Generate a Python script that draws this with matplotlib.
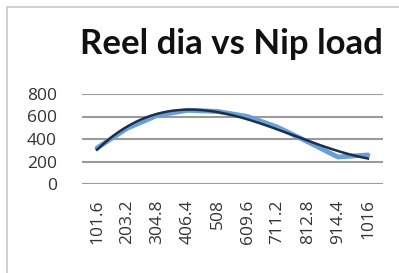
import numpy as np
import matplotlib
matplotlib.use("Agg")
import matplotlib.pyplot as plt
from matplotlib.patches import Rectangle

categories = ["101.6", "203.2", "304.8", "406.4", "508", "609.6", "711.2", "812.8", "914.4", "1016"]
nip_load = [320, 495, 610, 655, 645, 600, 505, 375, 240, 258]
yticks = [0, 200, 400, 600, 800]
title = "Reel dia vs Nip load"

fig = plt.figure(figsize=(3.99, 2.73), dpi=100)
fig.patches.append(Rectangle((7/399, -0.1), 1.2, (273-7)/273 + 0.1, transform=fig.transFigure,
                             fill=False, edgecolor="#c8c8c8", linewidth=1.2))

ax = fig.add_axes([82/399, (273-184)/273, (383-82)/399, 90/273])
x = np.arange(len(categories))
ax.plot(x, nip_load, color="#6a9fd6", linewidth=3.5, solid_capstyle="round", zorder=3)

# polynomial trendline fitted from data
coef = np.polyfit(x, nip_load, 3)
xf = np.linspace(0, len(categories) - 1, 200)
ax.plot(xf, np.polyval(coef, xf), color="#1c2f4a", linewidth=1.8, zorder=4)

ax.set_xlim(-0.5, len(categories) - 0.5)
ax.set_ylim(0, 800)
ax.set_yticks(yticks)
ax.set_xticks(x)
ax.set_xticklabels(categories, rotation=90, fontsize=12.5, color="#333333", family="Open Sans")
ax.set_yticklabels([str(v) for v in yticks], fontsize=12.5, color="#333333", family="Open Sans")
ax.tick_params(axis="x", length=0, pad=11)
ax.tick_params(axis="y", length=0, pad=18)
ax.grid(axis="y", color="#9a9a9a", linewidth=1.5)
ax.set_axisbelow(True)
for s in ax.spines.values():
    s.set_visible(False)

fig.text(231/399, 1 - 44/273, title, ha="center", va="center", fontsize=25,
         fontweight="bold", family="Lato", color="#111111")

fig.savefig("out.png", dpi=100)
